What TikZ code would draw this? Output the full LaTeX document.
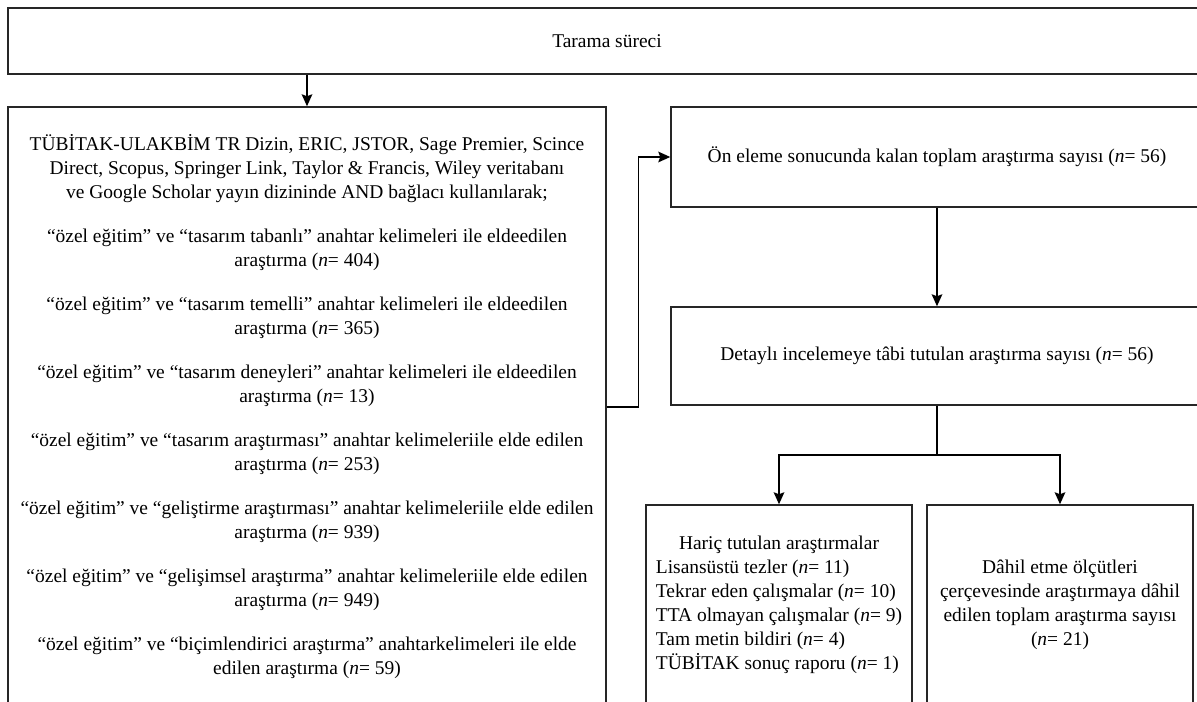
\documentclass[tikz,border=0pt]{standalone}
\usepackage{fontspec}
\setmainfont{Liberation Serif}
\usepackage{tikz}
\usetikzlibrary{arrows.meta}

\newcommand{\nn}{(\textit{n}=\ }

\begin{document}
\begin{tikzpicture}[x=0.75pt,y=-0.75pt,
  font=\fontsize{14.6}{18}\selectfont,
  box/.style={draw=black!85,line width=1.1pt,inner sep=0pt,align=center},
  sz/.style 2 args={minimum width=#1*0.75pt,minimum height=#2*0.75pt},
  arr/.style={line width=1.1pt,-{Stealth[length=9pt,width=8pt,inset=1.5pt]}}]
 \useasboundingbox (0,0) rectangle (1197,702);
 \clip (0,0) rectangle (1197,702);
 % boxes
 \node[box,sz={1198}{66}] (scan) at (607,41) {Tarama süreci};
 \node[box,sz={598}{600}] (srch) at (307,407) {%
   TÜBİTAK-ULAKBİM TR Dizin, ERIC, JSTOR, Sage Premier, Scince\\
   Direct, Scopus, Springer Link, Taylor \& Francis, Wiley veritabanı\\
   ve Google Scholar yayın dizininde AND bağlacı kullanılarak;\\[15pt]
   “özel eğitim” ve “tasarım tabanlı” anahtar kelimeleri ile eldeedilen\\
   araştırma \nn 404)\\[15pt]
   “özel eğitim” ve “tasarım temelli” anahtar kelimeleri ile eldeedilen\\
   araştırma \nn 365)\\[15pt]
   “özel eğitim” ve “tasarım deneyleri” anahtar kelimeleri ile eldeedilen\\
   araştırma \nn 13)\\[15pt]
   “özel eğitim” ve “tasarım araştırması” anahtar kelimeleriile elde edilen\\
   araştırma \nn 253)\\[15pt]
   “özel eğitim” ve “geliştirme araştırması” anahtar kelimeleriile elde edilen\\
   araştırma \nn 939)\\[15pt]
   “özel eğitim” ve “gelişimsel araştırma” anahtar kelimeleriile elde edilen\\
   araştırma \nn 949)\\[15pt]
   “özel eğitim” ve “biçimlendirici araştırma” anahtarkelimeleri ile elde\\
   edilen araştırma \nn 59)};
 \node[box,sz={532}{100}] (elim) at (937,157)
   {Ön eleme sonucunda kalan toplam araştırma sayısı \nn 56)};
 \node[box,sz={532}{98}] (detl) at (937,356)
   {Detaylı incelemeye tâbi tutulan araştırma sayısı \nn 56)};
 \node[box,sz={266}{200}] (excl) at (779,605) {%
   \begin{tabular}{@{}l@{}}
   \multicolumn{1}{@{}c@{}}{Hariç tutulan araştırmalar}\\
   Lisansüstü tezler \nn 11)\\
   Tekrar eden çalışmalar \nn 10)\\
   TTA olmayan çalışmalar \nn 9)\\
   Tam metin bildiri \nn 4)\\
   TÜBİTAK sonuç raporu \nn 1)
   \end{tabular}};
 \node[box,sz={266}{200}] (incl) at (1060,605)
   {Dâhil etme ölçütleri\\ çerçevesinde araştırmaya dâhil\\ edilen toplam araştırma sayısı\\ \nn 21)};
 % connectors
 \coordinate (splt) at (937,455);
 \draw[arr] (srch.north |- scan.south) -- (srch.north);
 \draw[arr] (srch.east) -- ++(32,0) |- (elim.west);
 \draw[arr] (elim.south) -- (detl.north);
 \draw[line width=1.1pt] (detl.south) -- (splt);
 \draw[arr] (splt) -| (excl.north);
 \draw[arr] (splt) -| (incl.north);
\end{tikzpicture}
\end{document}
